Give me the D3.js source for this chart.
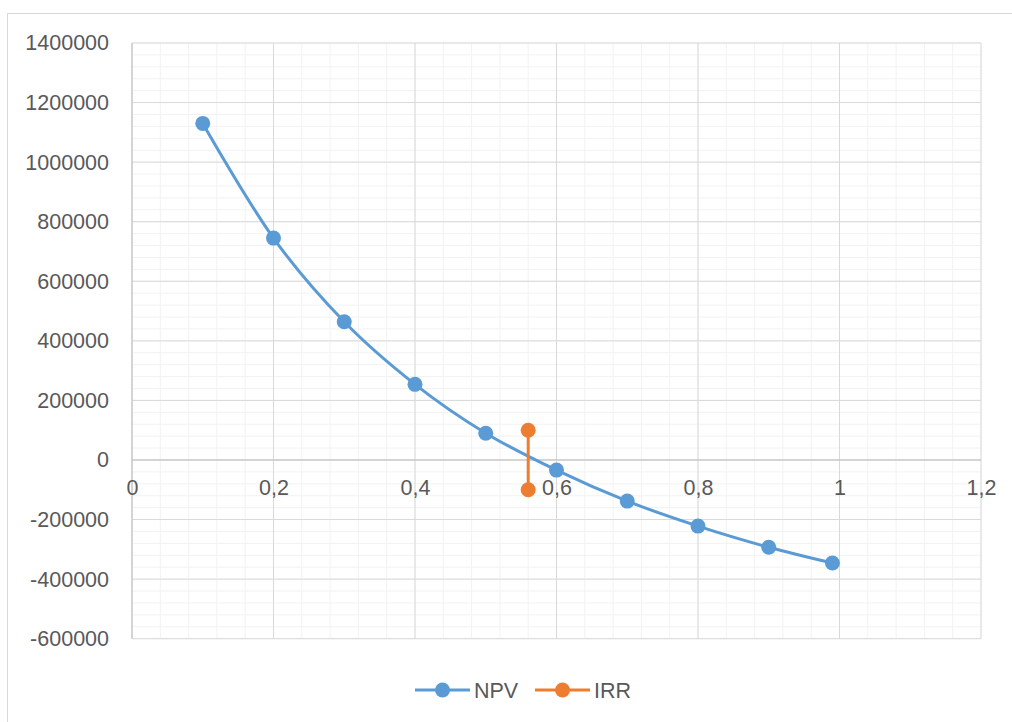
<!DOCTYPE html>
<html><head><meta charset="utf-8">
<script src="https://cdn.jsdelivr.net/npm/d3@7"></script>
<style>body{margin:0;background:#fff}svg{display:block}</style>
</head><body>
<script>
const npvRates = [0.1,0.2,0.3,0.4,0.5,0.6,0.7,0.8,0.9,0.99];
const npvValues = [1130000,745000,464000,254000,90000,-34000,-138000,-222000,-293000,-346000];
const irrRates = [0.56,0.56];
const irrValues = [100000,-100000];
const xTicks = [0,0.2,0.4,0.6,0.8,1,1.2];
const yTicks = [-600000,-400000,-200000,0,200000,400000,600000,800000,1000000,1200000,1400000];
const seriesNames = ["NPV","IRR"];
const colors = ["#5B9BD5","#ED7D31"];

const W=1012,H=722;
const svg=d3.select("body").append("svg").attr("width",W).attr("height",H);
svg.append("rect").attr("x",7.5).attr("y",13.5).attr("width",W+10).attr("height",H+10)
  .attr("fill","#fff").attr("stroke","#d9d9d9");
const L=132,R=981,T=43,B=638.7;
const x=d3.scaleLinear().domain([0,1.2]).range([L,R]);
const y=d3.scaleLinear().domain([-600000,1400000]).range([B,T]);
const g=svg.append("g");
const xMinor=d3.range(0,1.2001,0.04), yMinor=d3.range(-600000,1400001,40000);
g.selectAll(".mx").data(xMinor).join("line").attr("x1",d=>x(d)).attr("x2",d=>x(d)).attr("y1",T).attr("y2",B).attr("stroke","#f2f2f2").attr("stroke-width",1);
g.selectAll(".my").data(yMinor).join("line").attr("y1",d=>y(d)).attr("y2",d=>y(d)).attr("x1",L).attr("x2",R).attr("stroke","#f2f2f2").attr("stroke-width",1);
g.selectAll(".Mx").data(xTicks).join("line").attr("x1",d=>x(d)).attr("x2",d=>x(d)).attr("y1",T).attr("y2",B).attr("stroke","#d9d9d9").attr("stroke-width",1);
g.selectAll(".My").data(yTicks).join("line").attr("y1",d=>y(d)).attr("y2",d=>y(d)).attr("x1",L).attr("x2",R).attr("stroke","#d9d9d9").attr("stroke-width",1);
g.append("line").attr("x1",L).attr("x2",R).attr("y1",y(0)).attr("y2",y(0)).attr("stroke","#bfbfbf");
g.append("line").attr("x1",L).attr("x2",L).attr("y1",T).attr("y2",B).attr("stroke","#bfbfbf");
const font="'Liberation Sans', Arial, sans-serif";
const fs=21.5;
const yAxis=d3.axisLeft(y).tickValues(yTicks).tickSize(0).tickPadding(23).tickFormat(d=>String(d));
const ya=svg.append("g").attr("transform",`translate(${L},0)`).call(yAxis);
ya.select(".domain").remove();
ya.selectAll("text").attr("font-family",font).attr("font-size",fs).attr("fill","#595959");
const fmt=d=>String(d).replace(".",",");
const xAxis=d3.axisBottom(x).tickValues(xTicks).tickSize(0).tickPadding(20).tickFormat(fmt);
const xa=svg.append("g").attr("transform",`translate(0,${y(0)})`).call(xAxis);
xa.select(".domain").remove();
xa.selectAll("text").attr("font-family",font).attr("font-size",fs).attr("fill","#595959");
const line=d3.line().x(d=>x(d[0])).y(d=>y(d[1])).curve(d3.curveCatmullRom.alpha(0));
const npv=npvRates.map((r,i)=>[r,npvValues[i]]);
const irr=irrRates.map((r,i)=>[r,irrValues[i]]);
[npv,irr].forEach((data,k)=>{
  svg.append("path").attr("d",line(data)).attr("fill","none").attr("stroke",colors[k]).attr("stroke-width",3);
  svg.selectAll(".p"+k).data(data).join("circle").attr("cx",d=>x(d[0])).attr("cy",d=>y(d[1])).attr("r",7.5).attr("fill",colors[k]);
});
const lg=svg.append("g");
const lx=[415,535];
seriesNames.forEach((n,k)=>{
  lg.append("line").attr("x1",lx[k]).attr("x2",lx[k]+55).attr("y1",690).attr("y2",690).attr("stroke",colors[k]).attr("stroke-width",3);
  lg.append("circle").attr("cx",lx[k]+27.5).attr("cy",690).attr("r",7.5).attr("fill",colors[k]);
  lg.append("text").attr("x",lx[k]+59).attr("y",697.5).attr("font-family",font).attr("font-size",fs).attr("fill","#595959").text(n);
});
</script>
</body></html>
